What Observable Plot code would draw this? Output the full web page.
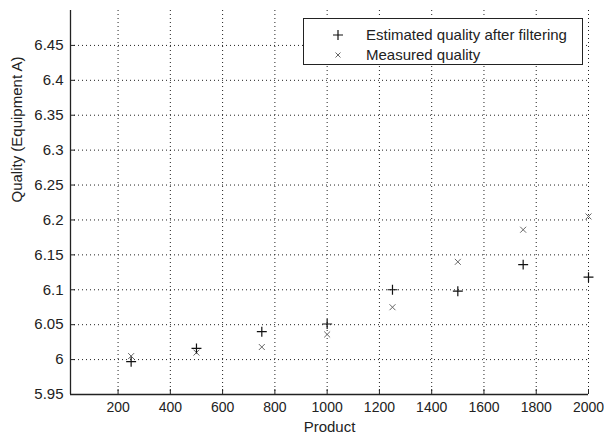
<!DOCTYPE html>
<html>
<head>
<meta charset="utf-8">
<script src="https://cdn.jsdelivr.net/npm/d3@7"></script>
<script src="https://cdn.jsdelivr.net/npm/@observablehq/plot@0.6"></script>
<style>
  html, body { margin: 0; padding: 0; background: #fff; }
  #wrap { position: relative; width: 604px; height: 436px; font-family: "Liberation Sans", Arial, sans-serif; }
  #legend { position: absolute; left: 303px; top: 18px; width: 278px; height: 45px; border: 1px solid #222; background: #fff; font-size: 15px; color: #222; }
  #legend .row { position: absolute; left: 0; width: 100%; height: 18px; }
  #legend .lab { position: absolute; left: 62px; top: 0; line-height: 18px; white-space: nowrap; }
  #legend svg { position: absolute; left: 28px; top: 0; }
</style>
</head>
<body>
<div id="wrap"></div>
<script>
const products = [250, 500, 750, 1000, 1250, 1500, 1750, 2000];
const estimated = [5.997, 6.016, 6.040, 6.051, 6.100, 6.098, 6.136, 6.118];
const measured = [6.005, 6.010, 6.018, 6.036, 6.075, 6.140, 6.186, 6.205];
const xTicks = [200, 400, 600, 800, 1000, 1200, 1400, 1600, 1800, 2000];
const yTicks = [5.95, 6, 6.05, 6.1, 6.15, 6.2, 6.25, 6.3, 6.35, 6.4, 6.45];
const seriesNames = ["Estimated quality after filtering", "Measured quality"];
const xLabel = "Product";
const yLabel = "Quality (Equipment A)";

const est = products.map((p, i) => ({x: p, y: estimated[i]}));
const mea = products.map((p, i) => ({x: p, y: measured[i]}));

const W = 604, H = 436, mL = 70, mR = 16, mT = 10, mB = 42;
const innerW = W - mL - mR, innerH = H - mT - mB;
const xMin = 18, yMin = 5.95;

const chart = Plot.plot({
  width: W, height: H,
  marginLeft: mL, marginRight: mR, marginTop: mT, marginBottom: mB,
  style: {fontFamily: '"Liberation Sans", Arial, sans-serif', fontSize: "15px", color: "#222", background: "#fff"},
  x: {domain: [xMin, 2000]},
  y: {domain: [yMin, 6.5]},
  marks: [
    Plot.ruleX(xTicks, {x: d => d, stroke: "#222", strokeDasharray: "1,3", strokeWidth: 1}),
    Plot.ruleY(yTicks.filter(d => d !== yMin), {y: d => d, x1: xMin, x2: 2000, stroke: "#222", strokeDasharray: "1,3", strokeWidth: 1}),
    Plot.tickX(xTicks, {x: d => d, insetTop: innerH - 5, stroke: "#222"}),
    Plot.tickY(yTicks, {y: d => d, insetRight: innerW - 5, stroke: "#222"}),
    Plot.ruleX([xMin], {stroke: "#222", strokeWidth: 1.3}),
    Plot.ruleY([yMin], {x1: xMin, x2: 2000, stroke: "#222", strokeWidth: 1.3}),
    Plot.axisX(xTicks, {tickSize: 0, tickPadding: 8, label: null, fill: "#222", fontSize: 14, tickFormat: d => String(d)}),
    Plot.axisY(yTicks, {tickSize: 0, tickPadding: 7, label: null, fill: "#222", tickFormat: d => String(d)}),
    Plot.text([xLabel], {frameAnchor: "bottom", dy: 37, text: d => d, fill: "#222", fontSize: 15}),
    Plot.text([yLabel], {frameAnchor: "left", dx: -53, rotate: -90, text: d => d, fill: "#222", fontSize: 15}),
    Plot.dot(mea, {x: "x", y: "y", symbol: "times", r: 2.8, stroke: "#666", strokeWidth: 1}),
    Plot.dot(est, {x: "x", y: "y", symbol: "plus", r: 3.3, stroke: "#111", strokeWidth: 1.2})
  ]
});

const wrap = document.getElementById("wrap");
wrap.appendChild(chart);

const legend = document.createElement("div");
legend.id = "legend";
const rowTops = [7, 27];
const syms = [
  '<path d="M1,6H11M6,1V11" stroke="#111" stroke-width="1.2" fill="none"/>',
  '<path d="M3.5,3.5L8.5,8.5M8.5,3.5L3.5,8.5" stroke="#666" stroke-width="1" fill="none"/>'
];
seriesNames.forEach((name, i) => {
  const row = document.createElement("div");
  row.className = "row";
  row.style.top = rowTops[i] + "px";
  row.innerHTML = `<svg width="12" height="18" viewBox="0 -3 12 18">${syms[i]}</svg><span class="lab">${name}</span>`;
  legend.appendChild(row);
});
wrap.appendChild(legend);
</script>
</body>
</html>
